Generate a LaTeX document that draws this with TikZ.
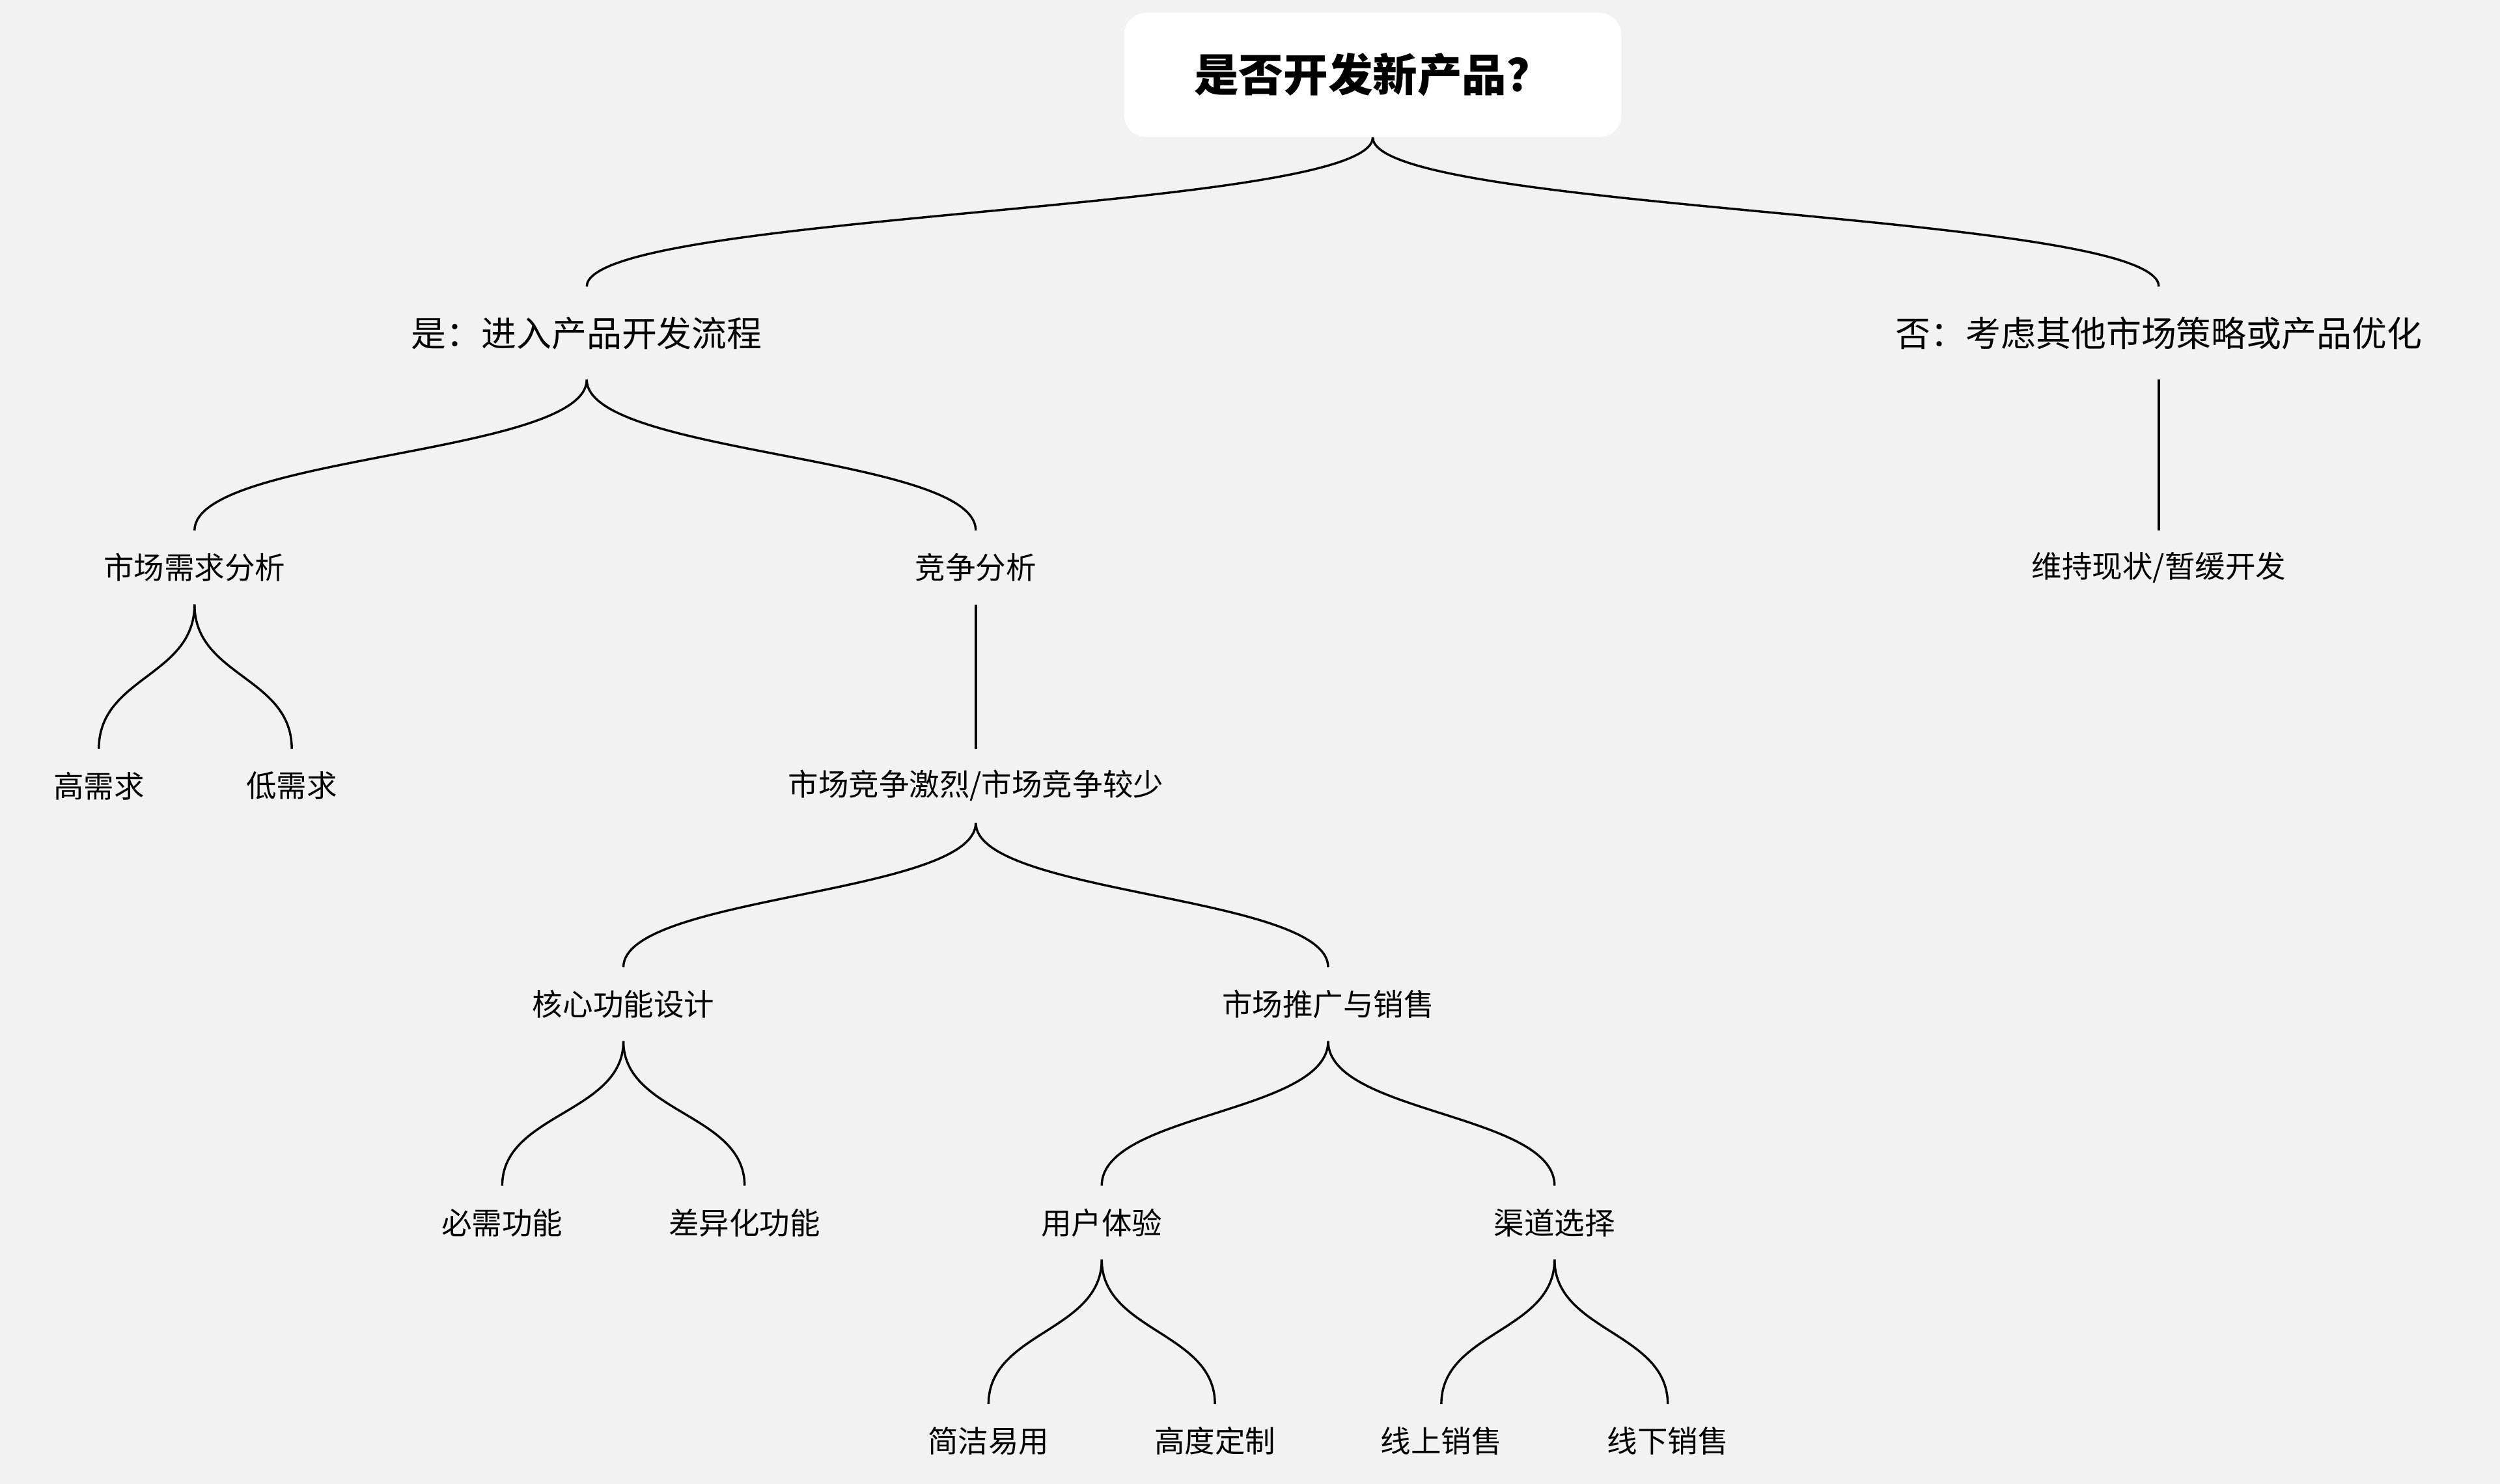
\documentclass[tikz,border=0pt]{standalone}
\usepackage{fontspec}
\setmainfont{Noto Sans CJK SC}
\usetikzlibrary{calc}
\begin{document}
\begin{tikzpicture}[x=1pt,y=-1pt,
  lbl/.style={inner sep=0pt,minimum height=46pt,font=\fontsize{19}{19}\selectfont},
  lbl1/.style={inner sep=0pt,minimum height=58pt,font=\fontsize{22}{22}\selectfont},
  con/.style={line width=1.4pt,black}]
\fill[fill={rgb,255:red,242;green,242;blue,242}] (0,0) rectangle (1568,931);
\useasboundingbox (0,0) rectangle (1568,931);
\node[fill=white,rounded corners=14pt,minimum width=312pt,minimum height=78pt,inner sep=0pt,font=\fontsize{28}{28}\selectfont\bfseries] (root) at (861,47) {是否开发新产品？};
\node[lbl1] (yes) at (368,209) {是：进入产品开发流程};
\node[lbl1] (no) at (1354,209) {否：考虑其他市场策略或产品优化};
\node[lbl] (mkt) at (122,356) {市场需求分析};
\node[lbl] (comp) at (612,356) {竞争分析};
\node[lbl] (keep) at (1354,356) {维持现状/暂缓开发};
\node[lbl] (hi) at (62,493) {高需求};
\node[lbl] (lo) at (183,493) {低需求};
\node[lbl] (cc) at (612,493) {市场竞争激烈/市场竞争较少};
\node[lbl] (core) at (391,630) {核心功能设计};
\node[lbl] (promo) at (833,630) {市场推广与销售};
\node[lbl] (need) at (315,767) {必需功能};
\node[lbl] (diff) at (467,767) {差异化功能};
\node[lbl] (ux) at (691,767) {用户体验};
\node[lbl] (chan) at (975,767) {渠道选择};
\node[lbl] (simple) at (620,904) {简洁易用};
\node[lbl] (custom) at (762,904) {高度定制};
\node[lbl] (online) at (904,904) {线上销售};
\node[lbl] (offline) at (1046,904) {线下销售};
\foreach \p/\c in {root.south/yes.north,root.south/no.north,yes.south/mkt.north,yes.south/comp.north,
  mkt.south/hi.north,mkt.south/lo.north,cc.south/core.north,cc.south/promo.north,
  core.south/need.north,core.south/diff.north,promo.south/ux.north,promo.south/chan.north,
  ux.south/simple.north,ux.south/custom.north,chan.south/online.north,chan.south/offline.north}{
  \path (\p) coordinate (P) (\c) coordinate (C);
  \path ($(P)!0.5!(C)$) coordinate (M);
  \draw[con] (P) .. controls (P|-M) and (C|-M) .. (C);
}
\draw[con] (no.south) -- (keep.north);
\draw[con] (comp.south) -- (cc.north);
\end{tikzpicture}
\end{document}
